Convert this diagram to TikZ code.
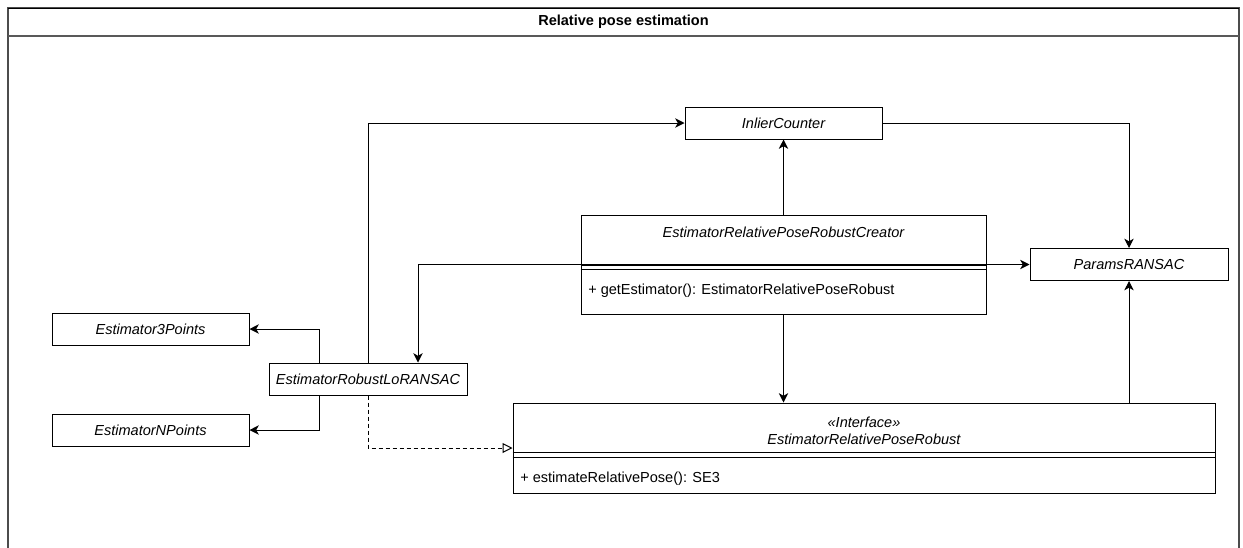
\documentclass[tikz,border=0pt]{standalone}
\usepackage{fontspec}
\setmainfont{Liberation Sans}
\usetikzlibrary{arrows.meta,calc}
\begin{document}
\begin{tikzpicture}[x=0.75pt,y=-0.75pt,
  every node/.style={font=\fontsize{10.9pt}{12.5pt}\selectfont},
  cls/.style={draw, line width=0.75pt, inner sep=0pt, fill=white},
  cname/.style={font=\fontsize{10.9pt}{12.5pt}\selectfont\itshape, inner sep=0pt},
  meth/.style={font=\fontsize{10.9pt}{12.5pt}\selectfont, inner sep=0pt, anchor=west},
  conn/.style={line width=0.75pt, -{Stealth[length=7pt,width=7pt,inset=2pt]}},
  conn2/.style={line width=0.75pt, {Stealth[length=7pt,width=7pt,inset=2pt]}-{Stealth[length=7pt,width=7pt,inset=2pt]}},
  realize/.style={line width=0.75pt, dash pattern=on 3pt off 2.25pt, -{Triangle[open,length=7.5pt,width=7.5pt,fill=white]}},
  sepline/.style={line width=0.75pt}
]
\useasboundingbox (0,0) rectangle (1243,547);
\clip (0,0) rectangle (1243,547);

% frame
\draw[line width=1.1pt, draw=black!70] (8,8) rectangle (1239,600);
\draw[line width=0.75pt] (8,8) -- (1239,8);
\draw[line width=1.5pt, draw=black!65] (8,36) -- (1239,36);
\node[font=\fontsize{10.9pt}{12.5pt}\selectfont\bfseries] (title) at (623.5,22) {Relative pose estimation};

% simple classes
\node[cls, minimum width=147.75pt, minimum height=24pt] (inlier) at (783.5,123) {};
\node[cname] (inliert) at (inlier) {InlierCounter};
\node[cls, minimum width=148.5pt, minimum height=24pt] (params) at (1129,264.5) {};
\node[cname] (paramst) at (params) {ParamsRANSAC};
\node[cls, minimum width=147.75pt, minimum height=24pt] (e3) at (150.5,329) {};
\node[cname] (e3t) at (e3) {Estimator3Points};
\node[cls, minimum width=147.75pt, minimum height=24pt] (eN) at (150.5,430) {};
\node[cname] (eNt) at (eN) {EstimatorNPoints};
\node[cls, minimum width=148.5pt, minimum height=24pt] (lo) at (368,379) {};
\node[cname] (lot) at (lo) {EstimatorRobustLoRANSAC};

% creator class
\node[cls, minimum width=303.75pt, minimum height=74.25pt] (creator) at (783.5,264.5) {};
\draw[sepline] (creator.west |- 0,265) -- (creator.east |- 0,265);
\draw[sepline] (creator.west |- 0,269) -- (creator.east |- 0,269);
\node[cname] (creatort) at (783.5,232) {EstimatorRelativePoseRobustCreator};
\node[meth] (creatorm) at (588,291) {+ getEstimator(): EstimatorRelativePoseRobust};

% interface class
\node[cls, minimum width=526.5pt, minimum height=67.5pt] (iface) at (864,448) {};
\draw[sepline] (iface.west |- 0,452) -- (iface.east |- 0,452);
\draw[sepline] (iface.west |- 0,457) -- (iface.east |- 0,457);
\node[cname] (ifaces) at (864,422) {«Interface»};
\node[cname] (ifacet) at (864,439) {EstimatorRelativePoseRobust};
\node[meth] (ifacem) at (520,479) {+ estimateRelativePose(): SE3};

% connectors
\draw[conn] (lo.north) |- (inlier.west);
\draw[conn] (creator.north) -- (inlier.south);
\draw[conn] (inlier.east) -| (params.north);
\draw[conn2] ($(lo.north)+(50,0)$) |- (params.west);
\draw[conn] (creator.south) -- (creator.south |- iface.north);
\draw[conn] (params.south |- iface.north) -- (params.south);
\draw[conn] ($(lo.north)+(-49,0)$) |- (e3.east);
\draw[conn] ($(lo.south)+(-49,0)$) |- (eN.east);
\draw[realize] (lo.south) |- (iface.west);
\end{tikzpicture}
\end{document}
